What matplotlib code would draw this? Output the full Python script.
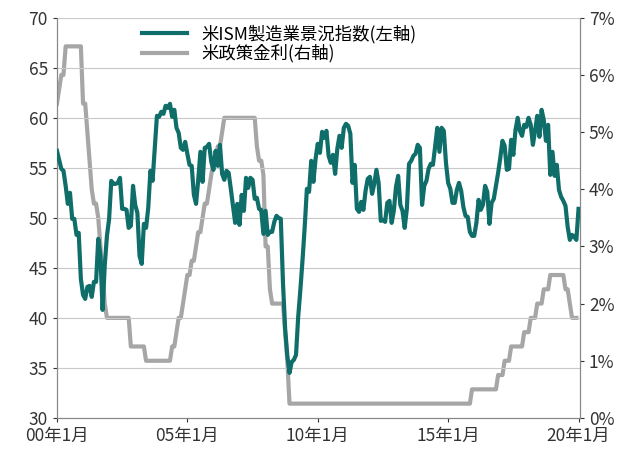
import matplotlib
matplotlib.use("Agg")
import matplotlib.pyplot as plt
from matplotlib.ticker import FuncFormatter

plt.rcParams['font.family'] = ['Noto Sans CJK JP', 'DejaVu Sans']

ism = [
 56.7,55.8,54.9,54.7,53.2,51.4,52.5,49.9,49.9,48.3,48.5,43.9,
 42.3,41.9,43.1,43.2,42.1,43.6,43.6,47.9,46.2,40.8,45.3,48.2,
 49.9,53.7,53.4,53.4,53.5,54.0,50.9,50.9,50.8,49.0,49.2,53.2,
 51.3,50.5,46.2,45.4,49.4,49.0,51.0,54.7,53.7,57.0,60.2,60.1,
 60.6,60.4,61.2,61.0,61.4,60.1,60.8,59.0,58.5,57.0,56.8,57.6,
 56.4,55.3,55.2,52.3,51.4,53.8,56.6,53.6,57.0,57.1,57.4,55.6,
 54.8,56.7,55.2,57.3,54.4,53.8,54.7,54.5,52.9,51.2,49.5,51.4,
 49.3,52.3,50.7,54.0,53.0,54.0,53.8,51.9,52.0,50.9,50.8,48.4,
 50.7,48.3,48.6,48.6,49.6,50.2,50.0,49.9,43.5,38.9,36.2,34.5,
 35.6,35.8,36.3,40.1,42.8,45.8,49.1,52.9,52.6,55.7,53.6,55.9,
 57.4,56.5,58.6,58.0,58.7,56.2,55.5,56.3,54.4,56.9,58.2,57.0,
 59.0,59.4,59.2,58.4,53.5,55.3,50.9,50.6,51.6,50.8,52.7,53.9,
 54.1,52.4,53.4,54.8,53.5,49.7,49.8,49.6,51.5,51.7,49.5,50.7,
 53.1,54.2,51.3,50.7,49.0,50.9,55.4,55.7,56.2,56.4,57.3,57.0,
 51.3,53.2,53.7,54.9,55.4,55.3,57.1,59.0,56.6,59.0,58.7,55.5,
 53.5,52.9,51.5,51.5,52.8,53.5,52.7,51.1,50.2,50.1,48.6,48.2,
 48.2,49.5,51.8,50.8,51.3,53.2,52.6,49.4,51.5,51.9,53.2,54.5,
 56.0,57.7,57.2,54.8,54.9,57.8,56.3,58.8,60.0,58.7,58.2,59.3,
 59.1,60.0,59.3,57.3,58.7,60.2,58.1,60.8,59.8,57.7,59.3,54.3,
 56.6,54.2,55.3,52.8,52.1,51.7,51.2,49.1,47.8,48.3,48.1,47.8,
 50.9]

rate = [
 5.5,5.75,6.0,6.0,6.5,6.5,6.5,6.5,6.5,6.5,6.5,6.5,
 5.5,5.5,5.0,4.5,4.0,3.75,3.75,3.5,3.0,2.5,2.0,1.75,
 1.75,1.75,1.75,1.75,1.75,1.75,1.75,1.75,1.75,1.75,1.25,1.25,
 1.25,1.25,1.25,1.25,1.25,1.0,1.0,1.0,1.0,1.0,1.0,1.0,
 1.0,1.0,1.0,1.0,1.0,1.25,1.25,1.5,1.75,1.75,2.0,2.25,
 2.5,2.5,2.75,2.75,3.0,3.25,3.25,3.5,3.75,3.75,4.0,4.25,
 4.5,4.5,4.75,4.75,5.0,5.25,5.25,5.25,5.25,5.25,5.25,5.25,
 5.25,5.25,5.25,5.25,5.25,5.25,5.25,5.25,4.75,4.5,4.5,4.25,
 3.0,3.0,2.25,2.0,2.0,2.0,2.0,2.0,2.0,1.5,1.0,0.25,
] + [0.25]*12*6 + [
 0.25,0.25,0.25,0.25,0.25,0.25,0.25,0.25,0.25,0.25,0.25,0.5,
 0.5,0.5,0.5,0.5,0.5,0.5,0.5,0.5,0.5,0.5,0.5,0.75,
 0.75,0.75,1.0,1.0,1.0,1.25,1.25,1.25,1.25,1.25,1.25,1.5,
 1.5,1.5,1.75,1.75,1.75,2.0,2.0,2.0,2.25,2.25,2.25,2.5,
 2.5,2.5,2.5,2.5,2.5,2.5,2.25,2.25,2.0,1.75,1.75,1.75]

x_ticks = [2000, 2005, 2010, 2015, 2020]
x_labels = ["00年1月", "05年1月", "10年1月", "15年1月", "20年1月"]

xi = [2000 + i/12 for i in range(len(ism))]
xr = [2000 + i/12 for i in range(len(rate))]

fig = plt.figure(figsize=(6.4, 4.68), dpi=100)
ax = fig.add_axes([0.089, 0.107, 0.817, 0.855])
ax2 = ax.twinx()

l1, = ax.plot(xi, ism, color='#0f6e69', lw=3, label='米ISM製造業景況指数(左軸)', zorder=3)
l2, = ax2.plot(xr, rate, color='#a6a6a6', lw=3, label='米政策金利(右軸)')
ax.set_zorder(ax2.get_zorder() + 1)
ax.patch.set_visible(False)

ax.set_ylim(30, 70)
ax.set_yticks(range(30, 71, 5))
ax2.set_ylim(0, 7)
ax2.set_yticks(range(0, 8))
ax2.yaxis.set_major_formatter(FuncFormatter(lambda v, p: f"{int(v)}%"))
ax.set_xlim(2000, 2020.05)
ax.set_xticks(x_ticks)
ax.set_xticklabels(x_labels)
ax.grid(axis='y', color='#c8c8c8', lw=0.8)
ax.set_axisbelow(True)

for a in (ax, ax2):
    a.tick_params(labelsize=12.5, colors='#333333', length=3)
    a.spines['top'].set_visible(False)
    a.spines['left'].set_color('#888888')
    a.spines['right'].set_color('#888888')
    a.spines['bottom'].set_color('#888888')

ax.legend(handles=[l1, l2], loc='upper left', bbox_to_anchor=(0.15, 1.0), frameon=False,
          fontsize=12.5, handlelength=2.6, labelspacing=0.05, borderaxespad=0)

fig.savefig('out.png', dpi=100)
